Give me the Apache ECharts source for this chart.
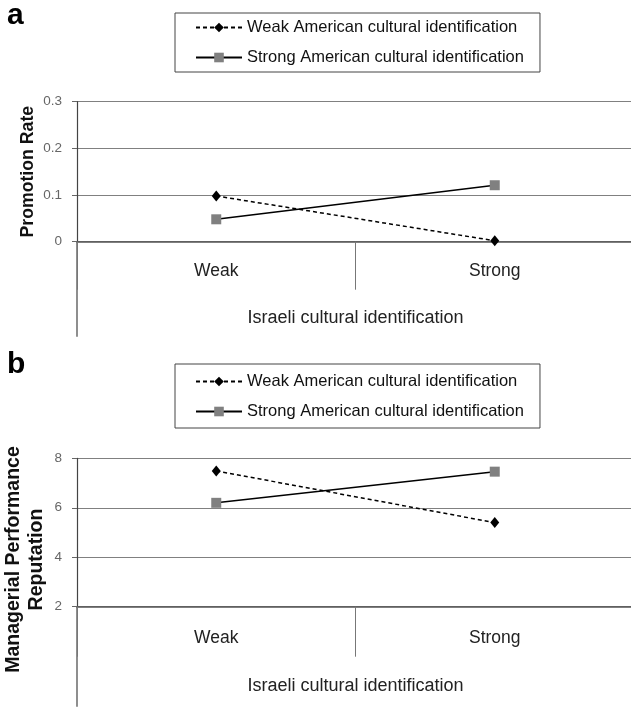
<!DOCTYPE html>
<html>
<head>
<meta charset="utf-8">
<script src="https://cdn.jsdelivr.net/npm/echarts@6/dist/echarts.min.js"></script>
<style>
html,body{margin:0;padding:0;background:#fff;}
#chart{width:631px;height:707px;}
</style>
</head>
<body>
<div id="chart"></div>
<script>
// ---- data ----
const categories = ['Weak', 'Strong'];
const seriesNames = ['Weak American cultural identification', 'Strong American cultural identification'];
const promotionWeakAmerican = [0.098, 0.002];
const promotionStrongAmerican = [0.048, 0.121];
const reputationWeakAmerican = [7.49, 5.40];
const reputationStrongAmerican = [6.20, 7.46];
const panelLabels = ['a', 'b'];
const xTitle = 'Israeli cultural identification';
const yTitleA = 'Promotion Rate';
const yTitleB = 'Managerial Performance\nReputation';
const yAxisA = {min: 0, max: 0.3, interval: 0.1};
const yAxisB = {min: 2, max: 8, interval: 2};

// ---- layout ----
const FONT = 'Liberation Sans, Arial, sans-serif';
const gridA = {left: 77, top: 101.7, width: 557, height: 140, outerBoundsMode: 'none', containLabel: false};
const gridB = {left: 77, top: 458.3, width: 557, height: 148.4, outerBoundsMode: 'none', containLabel: false};

const chart = echarts.init(document.getElementById('chart'), null, {renderer: 'canvas'});

function xAxisCfg(gi, tickLen, labelMargin, nameGap) {
  return {
    type: 'category', gridIndex: gi, data: categories, boundaryGap: true,
    axisLine: {show: true, lineStyle: {color: '#555', width: 1.6}},
    axisTick: {show: true, length: tickLen, lineStyle: {color: '#777', width: 1}},
    axisLabel: {fontFamily: FONT, fontSize: 17.5, color: '#222', margin: labelMargin},
    splitLine: {show: false},
    name: xTitle, nameLocation: 'middle', nameGap: nameGap, nameMoveOverlap: false,
    nameTextStyle: {fontFamily: FONT, fontSize: 18, color: '#222'}
  };
}
function yAxisCfg(gi, rng, name, nameGap, fontSize, extra) {
  return {
    type: 'value', gridIndex: gi, min: rng.min, max: rng.max, interval: rng.interval,
    axisLine: {show: true, lineStyle: {color: '#444', width: 1.2}},
    axisTick: {show: true, length: 5, lineStyle: {color: '#666'}},
    axisLabel: {fontFamily: FONT, fontSize: 13.5, color: '#666', margin: 15},
    splitLine: {show: true, lineStyle: {color: '#808080', width: 1.2}},
    name: name, nameLocation: 'middle', nameRotate: 90, nameGap: nameGap, nameMoveOverlap: false,
    nameTextStyle: Object.assign({fontFamily: FONT, fontSize: fontSize, fontWeight: 'bold', color: '#111', lineHeight: 23}, extra || {})
  };
}
function weakSeries(xi, data) {
  return {
    name: seriesNames[0], type: 'line', xAxisIndex: xi, yAxisIndex: xi, data: data,
    symbol: 'diamond', symbolSize: [9, 11],
    lineStyle: {color: '#000', width: 1.5, type: [4, 3]},
    itemStyle: {color: '#000'}
  };
}
function strongSeries(xi, data) {
  return {
    name: seriesNames[1], type: 'line', xAxisIndex: xi, yAxisIndex: xi, data: data,
    symbol: 'rect', symbolSize: 10,
    lineStyle: {color: '#000', width: 1.5, type: 'solid'},
    itemStyle: {color: '#808080'}
  };
}
function legendCfg(top, padT, padB) {
  return {
    orient: 'vertical', left: 175, top: top,
    data: seriesNames,
    itemWidth: 46, itemHeight: 12, itemGap: 11, itemStyle: {borderWidth: 0},
    borderColor: '#444', borderWidth: 1, padding: [padT, 16, padB, 20],
    textStyle: {fontFamily: FONT, fontSize: 16.5, color: '#111', lineHeight: 19},
    selectedMode: false
  };
}

const option = {
  animation: false,
  backgroundColor: '#fff',
  grid: [gridA, gridB],
  xAxis: [xAxisCfg(0, 48, 20, 67), xAxisCfg(1, 50, 22, 70)],
  yAxis: [
    yAxisCfg(0, yAxisA, yTitleA, 37, 17.7),
    yAxisCfg(1, yAxisB, yTitleB, 28.5, 19.5, {padding: [0, 54, 0, 0]})
  ],
  legend: [legendCfg(13, 5, 5), legendCfg(364, 8, 7)],
  series: [
    weakSeries(0, promotionWeakAmerican), strongSeries(0, promotionStrongAmerican),
    weakSeries(1, reputationWeakAmerican), strongSeries(1, reputationStrongAmerican)
  ],
  graphic: [
    {type: 'text', left: 7, top: 1, style: {text: panelLabels[0], font: 'bold 30px ' + FONT, fill: '#000'}},
    {type: 'text', left: 7, top: 350, style: {text: panelLabels[1], font: 'bold 30px ' + FONT, fill: '#000'}},
    // downward extension of the vertical axis below each panel
    {type: 'line', shape: {x1: gridA.left, y1: gridA.top + gridA.height, x2: gridA.left, y2: gridA.top + gridA.height + 95}, style: {stroke: '#444', lineWidth: 1.2}},
    {type: 'line', shape: {x1: gridB.left, y1: gridB.top + gridB.height, x2: gridB.left, y2: gridB.top + gridB.height + 100}, style: {stroke: '#444', lineWidth: 1.2}}
  ]
};
chart.setOption(option);
</script>
</body>
</html>
